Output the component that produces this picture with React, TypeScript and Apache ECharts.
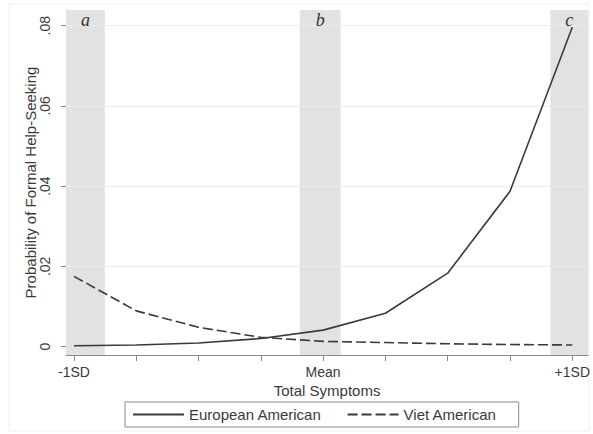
import React, { useEffect, useRef } from "react";
import * as echarts from "echarts";

// Positions along the "Total Symptoms" axis (tick index from -1SD to +1SD)
const xSteps = [0, 1, 2, 3, 4, 5, 6, 7, 8];
const xTickLabels: Record<number, string> = { 0: "-1SD", 4: "Mean", 8: "+1SD" };
const xLabelSteps = [0, 4, 8];

const europeanAmerican = [0.0002, 0.0004, 0.0009, 0.002, 0.0041, 0.0083, 0.0183, 0.0387, 0.0796];
const vietAmerican = [0.0175, 0.0089, 0.0048, 0.0023, 0.0013, 0.001, 0.0007, 0.0005, 0.0004];

const yTicks = [0, 0.02, 0.04, 0.06, 0.08];

const bandNames = ["a", "b", "c"];
const bandFrom = [-0.128, 3.625, 7.65];
const bandTo = [0.495, 4.28, 8.255];

const X_MIN = -0.128;
const X_MAX = 8.255;
const Y_MIN = -0.0021;
const Y_MAX = 0.0839;

const FONT = "Liberation Sans, Arial, sans-serif";
const TXT = "#3a3a3a";
const AXIS = "#8a8a8a";

export default function App() {
  const ref = useRef<HTMLDivElement>(null);

  useEffect(() => {
    if (!ref.current) return;
    const chart = echarts.init(ref.current, undefined, { renderer: "svg" });

    const eaData = xSteps.map((x, i) => [x, europeanAmerican[i]]);
    const vaData = xSteps.map((x, i) => [x, vietAmerican[i]]);

    chart.setOption({
      animation: false,
      backgroundColor: "#ffffff",
      textStyle: { fontFamily: FONT },
      graphic: [
        {
          type: "rect",
          shape: { x: 9, y: 4, width: 580, height: 427 },
          style: { fill: "none", stroke: "#efefef", lineWidth: 1 },
          silent: true,
          z: -10,
        },
      ],
      grid: { left: 66, right: 2, top: 10, bottom: 79, containLabel: false },
      legend: {
        left: 125,
        top: 402,
        padding: [5, 22, 5, 7],
        itemGap: 25,
        itemWidth: 51,
        itemHeight: 16,
        itemTextGap: 12,
        borderColor: "#8a8a8a",
        borderWidth: 1,
        borderRadius: 0,
        itemStyle: { opacity: 0 },
        textStyle: { fontFamily: FONT, fontSize: 15, color: TXT },
        data: ["European American", "Viet American"],
      },
      xAxis: {
        type: "value",
        min: X_MIN,
        max: X_MAX,
        name: "Total Symptoms",
        nameLocation: "middle",
        nameGap: 28,
        nameMoveOverlap: false,
        nameTextStyle: { fontFamily: FONT, fontSize: 15, color: TXT, verticalAlign: "top" },
        axisLine: { show: true, onZero: false, lineStyle: { color: AXIS, width: 1 } },
        axisTick: { show: true, length: 6, customValues: xSteps, lineStyle: { color: AXIS } },
        axisLabel: {
          customValues: xLabelSteps,
          formatter: (v: number) => xTickLabels[Math.round(v)] ?? "",
          fontFamily: FONT,
          fontSize: 14,
          color: TXT,
          margin: 10,
        },
        splitLine: { show: false },
      },
      yAxis: {
        type: "value",
        min: Y_MIN,
        max: Y_MAX,
        name: "Probability of Formal Help-Seeking",
        nameLocation: "middle",
        nameGap: 28,
        nameMoveOverlap: false,
        nameTextStyle: { fontFamily: FONT, fontSize: 15, color: TXT },
        axisLine: { show: true, onZero: false, lineStyle: { color: AXIS, width: 1 } },
        axisTick: { show: true, length: 5, customValues: yTicks, lineStyle: { color: AXIS } },
        axisLabel: {
          customValues: yTicks,
          rotate: 90,
          formatter: (v: number) => (Math.abs(v) < 1e-9 ? "0" : v.toFixed(2).replace(/^0/, "")),
          fontFamily: FONT,
          fontSize: 14,
          color: TXT,
          margin: 14,
        },
        splitLine: { show: false },
      },
      series: [
        {
          name: "European American",
          type: "line",
          data: eaData,
          symbol: "none",
          lineStyle: { color: "#3a3a3a", width: 1.6, type: "solid" },
          itemStyle: { color: "#3a3a3a" },
          z: 5,
          markArea: {
            silent: true,
            itemStyle: { color: "#e2e2e2" },
            label: {
              show: true,
              position: "insideTop",
              distance: 1,
              fontFamily: "Liberation Serif, Times New Roman, serif",
              fontStyle: "italic",
              fontSize: 18,
              color: "#333",
            },
            data: bandNames.map((n, i) => [
              { name: n, xAxis: bandFrom[i] },
              { xAxis: bandTo[i] },
            ]),
          },
          markLine: {
            silent: true,
            symbol: "none",
            label: { show: false },
            lineStyle: { color: "#ececec", width: 1, type: "solid" },
            data: yTicks.filter((v) => v > 0).map((v) => ({ yAxis: v })),
            z: 1,
          },
        },
        {
          name: "Viet American",
          type: "line",
          data: vaData,
          symbol: "none",
          lineStyle: { color: "#3a3a3a", width: 1.6, type: [10, 4] },
          itemStyle: { color: "#3a3a3a" },
          z: 5,
        },
      ],
    });

    return () => chart.dispose();
  }, []);

  return (
    <div
      ref={ref}
      style={{ position: "fixed", left: 0, top: 0, width: 593, height: 434, background: "#fff" }}
    />
  );
}
